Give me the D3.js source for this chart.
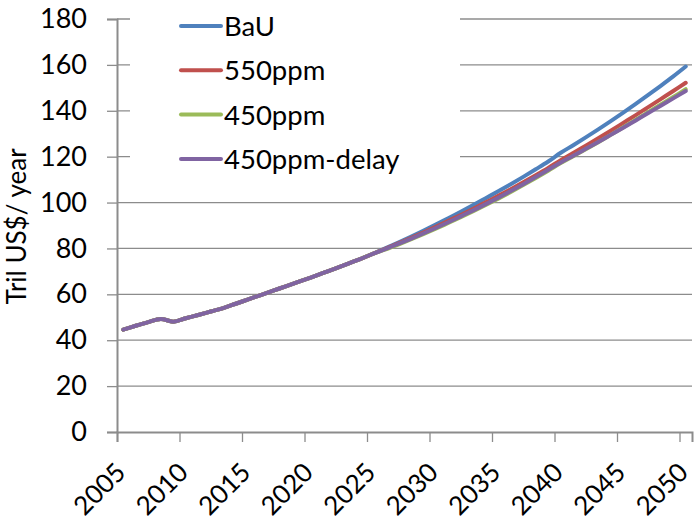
<!DOCTYPE html>
<html>
<head>
<meta charset="utf-8">
<script src="https://cdn.jsdelivr.net/npm/d3@7"></script>
<style>
  html, body { margin: 0; padding: 0; background: #fff; }
  svg { display: block; }
  text { font-family: Lato, "Open Sans", sans-serif; fill: #000; }
</style>
</head>
<body>
<svg id="chart" width="697" height="526"></svg>
<script>
const years = d3.range(2005, 2051);
const xTickLabels = ["2005","2010","2015","2020","2025","2030","2035","2040","2045","2050"];
const yTicks = [0, 20, 40, 60, 80, 100, 120, 140, 160, 180];
const seriesNames = ["BaU", "550ppm", "450ppm", "450ppm-delay"];
const seriesColors = ["#4F81BD", "#C0504D", "#9BBB59", "#8064A2"];

// shared history 2005-2025
const common = [44.6, 46.3, 47.9, 49.3, 48.1, 49.6, 51.0, 52.5, 54.0, 55.9,
                57.8, 59.7, 61.6, 63.5, 65.4, 67.3, 69.3, 71.3, 73.4, 75.5, 77.7];
// 2026-2050
const bauTail = [80.2, 82.6, 85.1, 87.7, 90.4, 93.2, 96.0, 98.9, 101.9, 104.9,
                 108.0, 111.2, 114.5, 117.9, 121.7, 125.0, 128.4, 131.9, 135.5, 139.2,
                 143.0, 146.9, 150.9, 155.0, 159.3];
const p550Tail = [79.9, 82.2, 84.5, 86.9, 89.4, 92.0, 94.6, 97.3, 100.1, 102.9,
                  105.8, 108.8, 111.9, 115.1, 118.5, 121.6, 124.8, 128.0, 131.3, 134.7,
                  138.1, 141.6, 145.1, 148.6, 152.2];
const p450Tail = [79.6, 81.7, 83.9, 86.2, 88.6, 91.1, 93.6, 96.2, 98.9, 101.7,
                  104.6, 107.6, 110.7, 113.9, 117.2, 120.2, 123.2, 126.3, 129.5, 132.8,
                  136.1, 139.4, 142.7, 146.0, 149.4];
const p450DelayTail = [79.8, 82.0, 84.2, 86.5, 88.9, 91.4, 94.0, 96.6, 99.3, 102.1,
                       105.0, 108.0, 111.1, 114.3, 117.5, 120.4, 123.4, 126.4, 129.5, 132.6,
                       135.8, 139.0, 142.2, 145.4, 148.6];

const BaU = common.concat(bauTail);
const p550 = common.concat(p550Tail);
const p450 = common.concat(p450Tail);
const p450delay = common.concat(p450DelayTail);
const seriesValues = [BaU, p550, p450, p450delay];

const svg = d3.select("#chart");
const plotLeft = 117, plotRight = 692, plotTop = 19, plotBottom = 432;

const x = d3.scaleLinear().domain([2004.5, 2050.5]).range([plotLeft, plotRight]);
const y = d3.scaleLinear().domain([0, 180]).range([plotBottom, plotTop]);

// gridlines
svg.append("g").selectAll("line").data(yTicks.filter(d => d > 0)).join("line")
  .attr("x1", plotLeft).attr("x2", plotRight)
  .attr("y1", d => y(d)).attr("y2", d => y(d))
  .attr("stroke", "#8c8c8c").attr("stroke-width", 1.3);

// y axis
const yAxis = d3.axisLeft(y).tickValues(yTicks).tickSize(10).tickPadding(20).tickFormat(d3.format("d"));
const gy = svg.append("g").attr("transform", `translate(${plotLeft},0)`).call(yAxis);
gy.select(".domain").attr("stroke", "#8c8c8c").attr("stroke-width", 2);
gy.selectAll(".tick line").attr("stroke", "#8c8c8c").attr("stroke-width", 1.3);
gy.selectAll(".tick text").style("font-size", "27px").style("font-family", "Lato, sans-serif").attr("fill", "#000");

// x axis: ticks at category boundaries every 5
const boundaries = d3.range(0, 10).map(i => 2004.5 + i * 5);
const xAxis = d3.axisBottom(x).tickValues(boundaries).tickSize(10).tickFormat("");
const gx = svg.append("g").attr("transform", `translate(0,${plotBottom})`).call(xAxis);
gx.select(".domain").attr("stroke", "#8c8c8c").attr("stroke-width", 2);
gx.selectAll(".tick line").attr("stroke", "#8c8c8c").attr("stroke-width", 1.3);

// x labels at category centers
svg.append("g").selectAll("text").data(xTickLabels).join("text")
  .attr("transform", d => `translate(${x(+d) + 4},${plotBottom + 42}) rotate(-45)`)
  .attr("text-anchor", "end")
  .style("font-size", "26px")
  .text(d => d);

// lines
const line = d3.line()
  .x((d, i) => x(years[i]))
  .y(d => y(d))
  .curve(d3.curveCatmullRom.alpha(0.5));

svg.append("g").selectAll("path").data(seriesValues).join("path")
  .attr("d", d => line(d))
  .attr("fill", "none")
  .attr("stroke", (d, i) => seriesColors[i])
  .attr("stroke-width", 4)
  .attr("stroke-linejoin", "round")
  .attr("stroke-linecap", "round");

// legend (white box covering gridlines)
const lg = svg.append("g");
lg.append("rect").attr("x", 130).attr("y", 0).attr("width", 330).attr("height", 185).attr("fill", "#fff");
const rows = lg.selectAll("g").data(seriesNames).join("g")
  .attr("transform", (d, i) => `translate(0,${36 + i * 44.3})`);
rows.append("line").attr("x1", 181).attr("x2", 221).attr("y1", -10).attr("y2", -10)
  .attr("stroke", (d, i) => seriesColors[i]).attr("stroke-width", 4).attr("stroke-linecap", "round");
rows.append("text").attr("x", 224).attr("y", 0).style("font-size", "27.5px").text(d => d);

// y title
svg.append("text")
  .attr("transform", "translate(26,226.5) rotate(-90)")
  .attr("text-anchor", "middle")
  .style("font-size", "26px")
  .text("Tril US$/ year");
</script>
</body>
</html>
